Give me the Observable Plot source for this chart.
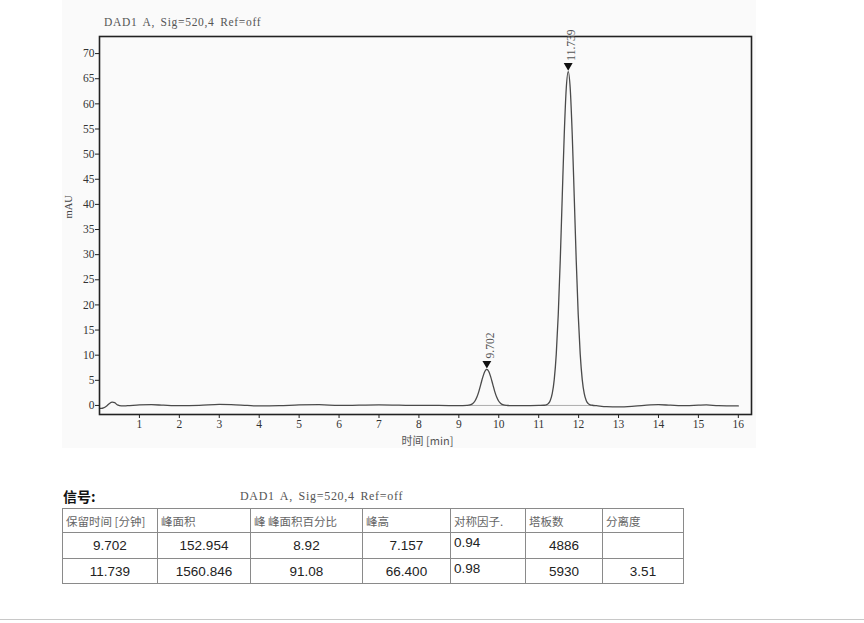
<!DOCTYPE html>
<html>
<head>
<meta charset="utf-8">
<script src="https://cdn.jsdelivr.net/npm/d3@7"></script>
<script src="https://cdn.jsdelivr.net/npm/@observablehq/plot@0.6"></script>
<style>
  html, body { margin: 0; padding: 0; background: #fff; }
  #page { position: relative; width: 864px; height: 623px; overflow: hidden; }
  #bg { position: absolute; left: 62px; top: 0; width: 694px; height: 448px; background: #fafafa; }
  #chart { position: absolute; left: 0; top: 0; }
  #chartTitle { position: absolute; left: 104px; top: 16px; font: 11.5px "Liberation Serif", serif; color: #555; letter-spacing: 0.7px; word-spacing: 2px; white-space: nowrap; }
  #sigTitle { position: absolute; left: 63px; top: 486px; font: bold 14px "Noto Sans CJK SC", sans-serif; color: #111; }
  #sigName { position: absolute; left: 240px; top: 489px; font: 12px "Liberation Serif", serif; color: #555; letter-spacing: 0.7px; word-spacing: 2px; white-space: nowrap; }
  table { position: absolute; left: 62px; top: 508px; border-collapse: collapse; }
  td { border: 1.6px solid #8a8a8a; padding: 0 3px; color: #222; box-sizing: border-box; }
  tr.head td { height: 24px; font: 11.5px "Noto Sans CJK SC", sans-serif; color: #666; vertical-align: middle; text-align: left; }
  tr.row td { font: 13.5px "Liberation Sans", Arial, sans-serif; text-align: center; vertical-align: middle; }
  tr.row td.sym { text-align: left; vertical-align: top; padding-top: 2px; }
  #bottomLine { position: absolute; left: 0; top: 619px; width: 864px; height: 1px; background: #c8c8c8; }
</style>
</head>
<body>
<div id="page">
  <div id="bg"></div>
  <div id="chart"></div>
  <div id="chartTitle"></div>
  <div id="sigTitle">信号:</div>
  <div id="sigName"></div>
  <table id="tbl"></table>
  <div id="bottomLine"></div>
</div>
<script>
// ---- chart data ----
const signalName = "DAD1 A, Sig=520,4 Ref=off";
const xTicks = [1,2,3,4,5,6,7,8,9,10,11,12,13,14,15,16];
const yTicks = [0,5,10,15,20,25,30,35,40,45,50,55,60,65,70];

const traceTime = [
  0.00,0.05,0.10,0.18,0.25,0.32,0.38,0.45,0.55,0.70,1.00,1.30,1.60,2.00,2.50,3.00,3.30,3.70,4.00,4.50,
  5.00,5.50,6.00,6.50,7.00,7.50,8.00,8.50,9.00,
  9.20,9.25,9.30,9.35,9.40,9.45,9.50,9.55,9.60,9.65,9.70,9.75,9.80,9.85,9.90,9.95,10.00,10.05,10.10,10.15,10.20,
  10.30,10.60,11.00,
  11.14,11.19,11.24,11.29,11.34,11.39,11.44,11.49,11.54,11.59,11.64,11.69,11.74,11.79,11.84,11.89,11.94,11.99,12.04,12.09,12.14,12.19,12.24,12.29,12.34,
  12.45,12.70,13.00,13.40,13.80,14.00,14.30,14.70,15.00,15.20,15.50,16.00
];
const traceAbs = [
  -0.6,-0.6,-0.5,-0.1,0.4,0.65,0.55,0.1,-0.1,-0.05,0.1,0.15,0.05,-0.05,0.0,0.2,0.15,0.0,-0.1,-0.05,
  0.1,0.15,0.0,0.05,0.1,0.05,0.0,0.0,-0.05,
  0.02,0.06,0.16,0.39,0.84,1.62,2.76,4.19,5.64,6.74,7.16,6.74,5.64,4.19,2.76,1.62,0.84,0.39,0.16,0.06,0.02,
  -0.05,-0.05,0.0,
  0.04,0.12,0.37,0.98,2.38,5.19,10.21,18.09,28.88,41.57,53.92,63.01,66.40,63.01,53.92,41.57,28.88,18.09,10.21,5.19,2.38,0.98,0.37,0.12,0.04,
  -0.05,-0.25,-0.3,-0.15,0.1,0.15,0.05,-0.05,0.05,0.1,-0.05,-0.1
];

const peakTimes = [9.702, 11.739];
const peakHeights = [7.157, 66.400];
const peakLabels = ["9.702", "11.739"];

const baseStart = [9.20, 11.10];
const baseEnd = [10.25, 12.45];

// ---- table data ----
const tableHeaders = ["保留时间 [分钟]", "峰面积", "峰 峰面积百分比", "峰高", "对称因子.", "塔板数", "分离度"];
const colRetention = ["9.702", "11.739"];
const colArea = ["152.954", "1560.846"];
const colAreaPct = ["8.92", "91.08"];
const colHeight = ["7.157", "66.400"];
const colSymmetry = ["0.94", "0.98"];
const colPlates = ["4886", "5930"];
const colResolution = ["", "3.51"];
const colWidths = [95, 93, 112, 88, 75, 77, 81];
const rowHeights = [26, 25];

// ---- build ----
document.getElementById("chartTitle").textContent = signalName;
document.getElementById("sigName").textContent = signalName;

const trace = traceTime.map((t, i) => ({t, v: traceAbs[i]}));
const peaks = peakTimes.map((t, i) => ({t, v: peakHeights[i], label: peakLabels[i]}));
const bases = baseStart.map((s, i) => ({x1: s, x2: baseEnd[i], y: 0}));

const chart = Plot.plot({
  width: 864,
  height: 455,
  marginLeft: 99,
  marginRight: 113,
  marginTop: 36,
  marginBottom: 41,
  style: {fontFamily: "'Liberation Serif', serif", fontSize: "11px", color: "#333", background: "transparent", overflow: "visible"},
  x: {domain: [0, 16.33]},
  y: {domain: [-1.8, 73.4]},
  marks: [
    Plot.axisX({ticks: xTicks, tickSize: 4, tickPadding: 1, tickFormat: d => String(d), label: null, stroke: "#222", fontSize: 11.5}),
    Plot.axisY({ticks: yTicks, tickSize: 4, tickPadding: 1, tickFormat: d => String(d), label: null, stroke: "#222", fontSize: 11.5}),
    Plot.link(bases, {x1: "x1", x2: "x2", y1: "y", y2: "y", stroke: "#999", strokeWidth: 0.8}),
    Plot.line(trace, {x: "t", y: "v", stroke: "#4a4a4a", strokeWidth: 1.3, curve: "monotone-x"}),
    Plot.frame({stroke: "#222", strokeWidth: 1.6}),
    Plot.dot(peaks, {x: "t", y: "v", symbol: "triangle", rotate: 180, r: 3.3, fill: "#111", stroke: "none", dy: -6}),
    Plot.text(peaks, {x: "t", y: "v", text: "label", rotate: -90, textAnchor: "start", dy: -11, dx: 3, fill: "#555", fontSize: 11.5}),
    Plot.text(["mAU"], {frameAnchor: "left", dx: -31, dy: -7, rotate: -90, text: d => d, fill: "#444", fontSize: 10.5, fontFamily: "'Liberation Serif', serif"}),
    Plot.text(["时间 [min]"], {frameAnchor: "bottom", dx: 2, dy: 30, text: d => d, fill: "#555", fontSize: 11, fontFamily: "'Noto Sans CJK SC', serif"})
  ]
});
document.getElementById("chart").appendChild(chart);

// table
const tbl = document.getElementById("tbl");
const hr = document.createElement("tr");
hr.className = "head";
tableHeaders.forEach((h, j) => {
  const td = document.createElement("td");
  td.textContent = h;
  td.style.width = colWidths[j] + "px";
  hr.appendChild(td);
});
tbl.appendChild(hr);
const cols = [colRetention, colArea, colAreaPct, colHeight, colSymmetry, colPlates, colResolution];
for (let i = 0; i < colRetention.length; i++) {
  const tr = document.createElement("tr");
  tr.className = "row";
  cols.forEach((c, j) => {
    const td = document.createElement("td");
    td.textContent = c[i];
    td.style.width = colWidths[j] + "px";
    td.style.height = rowHeights[i] + "px";
    if (j === 4) td.className = "sym";
    tr.appendChild(td);
  });
  tbl.appendChild(tr);
}
</script>
</body>
</html>
